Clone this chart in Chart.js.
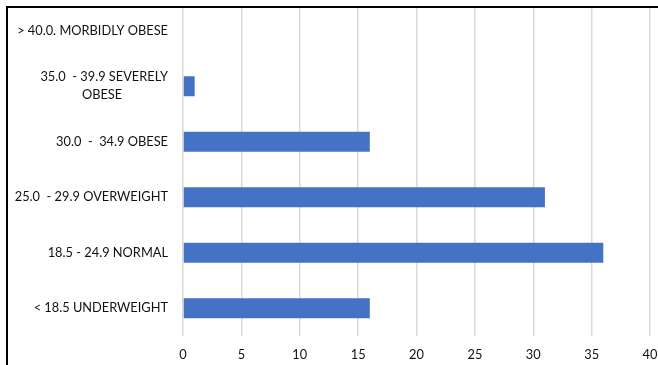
<!DOCTYPE html>
<html>
<head>
<meta charset="utf-8">
<script src="https://cdn.jsdelivr.net/npm/chart.js@4"></script>
<style>
  body { margin: 0; background: #fff; }
  #wrap { position: relative; width: 658px; height: 365px; overflow: hidden; }
  #bmiChart { position: absolute; left: 0; top: 0; }
  /* white strip above the frame + black frame on top and left */
  #topMask { position: absolute; left: 0; top: 0; width: 658px; height: 6px; background: #fff; }
  #frame { position: absolute; left: 6px; top: 6px; right: 0; bottom: 0;
           border-top: 2px solid #000; border-left: 2px solid #000; pointer-events: none; }
</style>
</head>
<body>
<div id="wrap">
  <canvas id="bmiChart" width="658" height="365"></canvas>
  <div id="topMask"></div>
  <div id="frame"></div>
</div>
<script>
// BMI groups, top to bottom
const categories = [
  '> 40.0. MORBIDLY OBESE',
  ['35.0  - 39.9 SEVERELY', 'OBESE              '],
  '30.0  -  34.9 OBESE',
  '25.0  - 29.9 OVERWEIGHT',
  '18.5 - 24.9 NORMAL',
  '< 18.5 UNDERWEIGHT'
];
const counts = [0, 1, 16, 31, 36, 16];
const xTicks = [0, 5, 10, 15, 20, 25, 30, 35, 40];

const labelFont = { family: 'Lato, "Open Sans", sans-serif', size: 12.8, lineHeight: 1.4 };

const bmiCtx = document.getElementById('bmiChart').getContext('2d');
const bmiChart = new Chart(bmiCtx, {
  type: 'bar',
  data: {
    labels: categories,
    datasets: [{
      data: counts,
      backgroundColor: '#4472C4',
      borderWidth: 0,
      inflateAmount: 0,
      barThickness: 20
    }]
  },
  options: {
    indexAxis: 'y',
    responsive: false,
    animation: false,
    layout: { padding: { left: 0, top: 3, right: 8, bottom: 0 } },
    plugins: {
      legend: { display: false },
      tooltip: { enabled: false }
    },
    scales: {
      x: {
        min: 0,
        max: 40,
        afterBuildTicks: (scale) => { scale.ticks = xTicks.map(v => ({ value: v })); },
        afterFit: (scale) => {
          scale.height = 29;
          scale.paddingLeft = 0;
          scale.paddingRight = 0;
        },
        grid: { color: '#d9d9d9', lineWidth: 1.5, drawTicks: false },
        border: { display: false },
        ticks: { color: '#111', font: labelFont, padding: 10, maxRotation: 0 }
      },
      y: {
        afterFit: (scale) => {
          scale.width = 183;
          scale.paddingTop = 0;
          scale.paddingBottom = 0;
        },
        grid: { display: false, drawTicks: false },
        border: { display: false },
        ticks: { color: '#111', font: labelFont, padding: 15 }
      }
    }
  }
});
</script>
</body>
</html>
